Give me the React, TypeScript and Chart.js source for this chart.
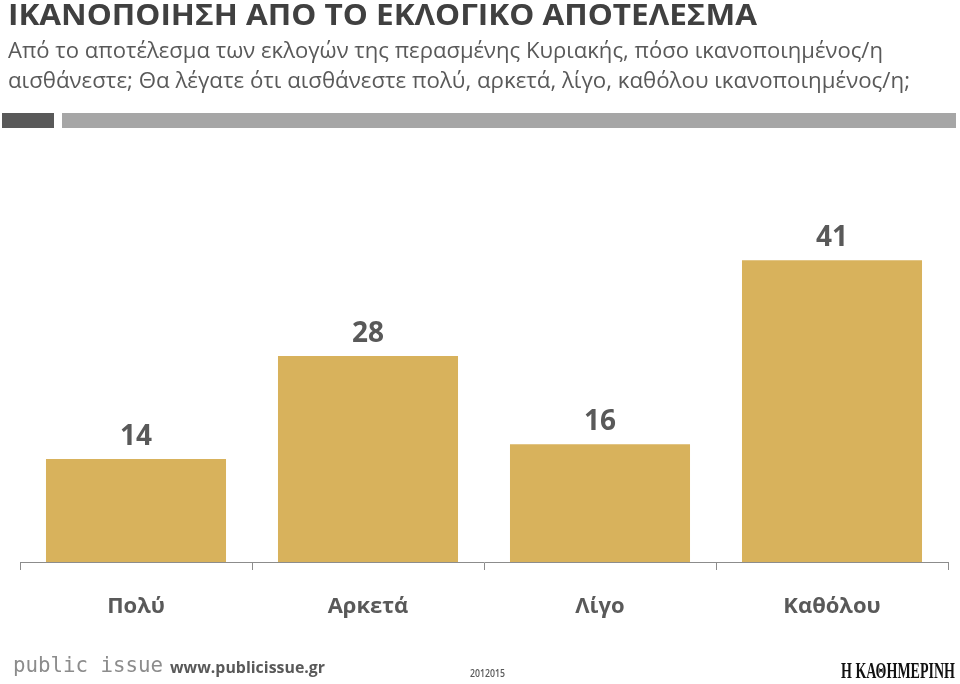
import React, { useEffect, useLayoutEffect, useRef } from "react";
import { Chart, registerables } from "chart.js";

Chart.register(...registerables);

const categories = ["Πολύ", "Αρκετά", "Λίγο", "Καθόλου"];
const values = [14, 28, 16, 41];

const TITLE = "ΙΚΑΝΟΠΟΙΗΣΗ ΑΠΟ ΤΟ ΕΚΛΟΓΙΚΟ ΑΠΟΤΕΛΕΣΜΑ";
const SUB1 = "Από το αποτέλεσμα των εκλογών της περασμένης Κυριακής, πόσο ικανοποιημένος/η";
const SUB2 = "αισθάνεστε; Θα λέγατε ότι αισθάνεστε πολύ, αρκετά, λίγο, καθόλου ικανοποιημένος/η;";

const BAR = "#D8B25C";
const TEXT = "#595959";
const SANS = "'Open Sans', 'Noto Sans', sans-serif";

type FitProps = {
  text: string;
  left: number;
  baseline: number;
  width: number;
  size: number;
  weight?: number;
  color: string;
  family: string;
  asc: number;
};

function FitText({ text, left, baseline, width, size, weight = 400, color, family, asc }: FitProps) {
  const ref = useRef<HTMLSpanElement>(null);
  useLayoutEffect(() => {
    const el = ref.current;
    if (!el) return;
    el.style.transform = "none";
    const w = el.getBoundingClientRect().width;
    if (w > 0) el.style.transform = `scaleX(${width / w})`;
  }, [text, width]);
  return (
    <span
      ref={ref}
      style={{
        position: "absolute",
        left,
        top: baseline - asc * size,
        fontFamily: family,
        fontSize: size,
        fontWeight: weight,
        lineHeight: `${size}px`,
        color,
        whiteSpace: "nowrap",
        transformOrigin: "0 0",
      }}
    >
      {text}
    </span>
  );
}

export default function App() {
  const canvasRef = useRef<HTMLCanvasElement>(null);

  useEffect(() => {
    const canvas = canvasRef.current;
    if (!canvas) return;

    const labelsPlugin = {
      id: "valueLabels",
      afterDatasetsDraw(chart: any) {
        const { ctx } = chart;
        const meta = chart.getDatasetMeta(0);
        ctx.save();
        ctx.fillStyle = TEXT;
        ctx.font = `bold 28px ${SANS}`;
        ctx.textAlign = "center";
        ctx.textBaseline = "alphabetic";
        meta.data.forEach((bar: any, i: number) => {
          ctx.fillText(String(values[i]), bar.x, bar.y - 14);
        });
        const xs = chart.scales.x;
        ctx.font = `bold 22px ${SANS}`;
        categories.forEach((c, i) => {
          ctx.fillText(c, xs.getPixelForValue(i), 613);
        });
        ctx.restore();
      },
    };

    const chart = new Chart(canvas, {
      type: "bar",
      data: {
        labels: categories,
        datasets: [
          {
            data: values,
            backgroundColor: BAR,
            borderWidth: 0,
            categoryPercentage: 1,
            barPercentage: 0.776,
          },
        ],
      },
      options: {
        responsive: false,
        animation: false,
        layout: { padding: { left: 20, right: 12, top: 150, bottom: 0 } },
        plugins: {
          legend: { display: false },
          tooltip: { enabled: false },
          title: { display: false },
        },
        scales: {
          x: {
            offset: true,
            grid: {
              offset: true,
              drawOnChartArea: false,
              drawTicks: true,
              tickLength: 8,
              color: "#8c8c8c",
            },
            border: { display: true, color: "#8c8c8c", width: 1 },
            ticks: { display: false },
            afterFit: (scale: any) => {
              scale.height = 122;
            },
          },
          y: {
            display: false,
            min: 0,
            max: 56,
          },
        },
      },
      plugins: [labelsPlugin],
    });

    return () => chart.destroy();
  }, []);

  return (
    <div
      style={{
        position: "absolute",
        left: 0,
        top: 0,
        width: 960,
        height: 684,
        background: "#ffffff",
        overflow: "hidden",
      }}
    >
      <canvas ref={canvasRef} width={960} height={684} style={{ position: "absolute", left: 0, top: 0 }} />
      <FitText text={TITLE} left={8} baseline={25} width={749} size={29} weight={700} color="#404040" family={SANS} asc={0.888} />
      <FitText text={SUB1} left={8} baseline={58} width={875} size={22} color={TEXT} family={SANS} asc={0.888} />
      <FitText text={SUB2} left={8} baseline={88} width={902} size={22} color={TEXT} family={SANS} asc={0.888} />
      <div style={{ position: "absolute", left: 2, top: 113, width: 52, height: 15, background: "#595959" }} />
      <div style={{ position: "absolute", left: 62, top: 113, width: 894, height: 15, background: "#a6a6a6" }} />
      <FitText text="public issue" left={13} baseline={673} width={150} size={22} color="#8c8c8c" family="'DejaVu Sans Mono', monospace" asc={0.846} />
      <FitText text="www.publicissue.gr" left={170} baseline={673} width={155} size={16} weight={700} color={TEXT} family={SANS} asc={0.888} />
      <FitText text="2012015" left={470} baseline={677} width={35} size={10} weight={600} color={TEXT} family={SANS} asc={0.888} />
      <FitText text="Η ΚΑΘΗΜΕΡΙΝΗ" left={841} baseline={678} width={114} size={24} weight={700} color="#111111" family="'Liberation Serif', serif" asc={0.8375} />
    </div>
  );
}
